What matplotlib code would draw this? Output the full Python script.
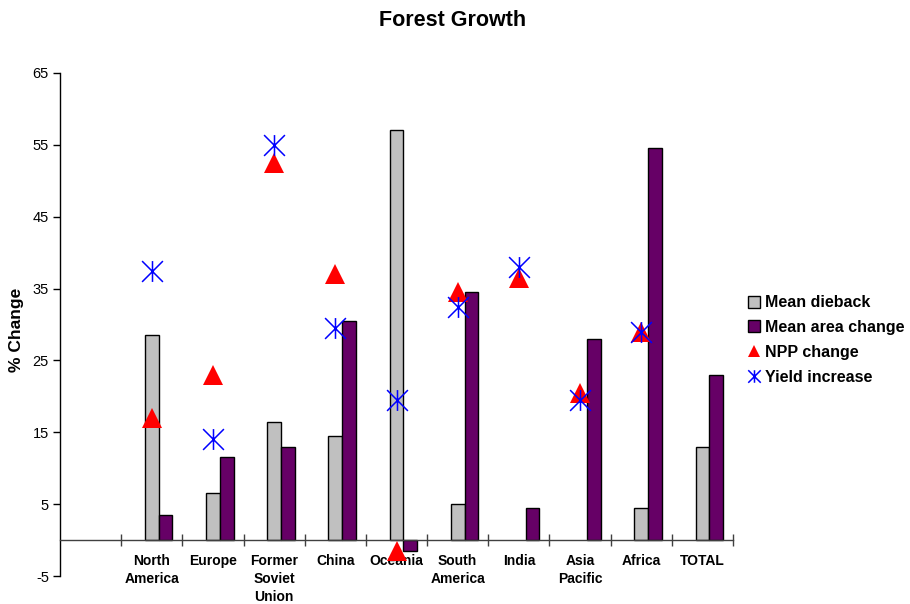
import numpy as np
import matplotlib
matplotlib.use("Agg")
import matplotlib.pyplot as plt
from matplotlib.path import Path
from matplotlib.lines import Line2D

plt.rcParams['font.family'] = ['Liberation Sans', 'DejaVu Sans']
plt.rcParams['axes.unicode_minus'] = False

categories = ['', 'North\nAmerica', 'Europe', 'Former\nSoviet\nUnion', 'China', 'Oceania',
              'South\nAmerica', 'India', 'Asia\nPacific', 'Africa', 'TOTAL']
nan = np.nan
mean_dieback = [nan, 28.5, 6.5, 16.5, 14.5, 57.0, 5.0, nan, nan, 4.5, 13.0]
mean_area_change = [nan, 3.5, 11.5, 13.0, 30.5, -1.5, 34.5, 4.5, 28.0, 54.5, 23.0]
npp_change = [nan, 17.0, 23.0, 52.5, 37.0, -1.5, 34.5, 36.5, 20.5, 29.0, nan]
yield_increase = [nan, 37.5, 14.0, 55.0, 29.5, 19.5, 32.5, 38.0, 19.5, 29.0, nan]
yticks = [-5, 5, 15, 25, 35, 45, 55, 65]

W, H = 910, 604
fig = plt.figure(figsize=(W / 100, H / 100), dpi=100)
ax = fig.add_axes([60 / W, (H - 576) / H, 673 / W, 503 / H])

n = len(categories)
centers = np.arange(n) + 0.5
bw = 0.224
gray = '#C0C0C0'
purple = '#660066'

ax.bar(centers, mean_dieback, width=bw, color=gray, edgecolor='black', linewidth=1.0, zorder=2)
ax.bar(centers + bw, mean_area_change, width=bw, color=purple, edgecolor='black', linewidth=1.0, zorder=2)

star = Path([(-1, -1), (1, 1), (-1, 1), (1, -1), (0, -1), (0, 1)],
            [Path.MOVETO, Path.LINETO, Path.MOVETO, Path.LINETO, Path.MOVETO, Path.LINETO])

ax.plot(centers, npp_change, linestyle='none', marker='^', markersize=15,
        color='#FF0000', markeredgewidth=0, zorder=4)
ax.plot(centers, yield_increase, linestyle='none', marker=star, markersize=15,
        markerfacecolor='none', markeredgecolor='#0000FF', markeredgewidth=1.1, zorder=5)

ax.set_xlim(0, n)
ax.set_ylim(-5, 65)

for s in ['top', 'right']:
    ax.spines[s].set_visible(False)
ax.spines['bottom'].set_position(('data', 0))
ax.spines['bottom'].set_color('#404040')
ax.spines['bottom'].set_linewidth(1.0)
ax.spines['left'].set_linewidth(1.0)

ax.set_yticks(yticks)
ax.tick_params(axis='y', direction='out', length=5, width=1, labelsize=10.5, pad=3)

ax.set_xticks(np.arange(1, n + 1))
ax.set_xticklabels([])
ax.tick_params(axis='x', which='major', direction='inout', length=8, width=1, color='#404040')
ax.set_xticks(centers, minor=True)
ax.set_xticklabels(categories, minor=True, fontsize=10, fontweight='bold', linespacing=1.35)
ax.tick_params(axis='x', which='minor', length=0, pad=10)

fig.text(16.5 / W, 1 - 330 / H, '% Change', rotation=90, ha='center', va='center',
         fontsize=12.5, fontweight='bold')

fig.text(453 / W, 1 - 20 / H, 'Forest Growth', ha='center', va='center',
         fontsize=15.5, fontweight='bold')

handles = [
    Line2D([], [], linestyle='none', marker='s', markersize=8, markerfacecolor=gray,
           markeredgecolor='black', markeredgewidth=1),
    Line2D([], [], linestyle='none', marker='s', markersize=8, markerfacecolor=purple,
           markeredgecolor='black', markeredgewidth=1),
    Line2D([], [], linestyle='none', marker='^', markersize=9, color='#FF0000', markeredgewidth=0),
    Line2D([], [], linestyle='none', marker=star, markersize=9, markerfacecolor='none',
           markeredgecolor='#0000FF', markeredgewidth=1.1),
]
labels = ['Mean dieback', 'Mean area change', 'NPP change', 'Yield increase']
fig.legend(handles, labels, loc='center left', bbox_to_anchor=(748 / W, 1 - 340 / H),
           frameon=False, prop={'size': 11.5, 'weight': 'bold'}, handlelength=0.8,
           handletextpad=0.25, labelspacing=0.62, borderpad=0, borderaxespad=0)

fig.savefig('out.png', dpi=100)
